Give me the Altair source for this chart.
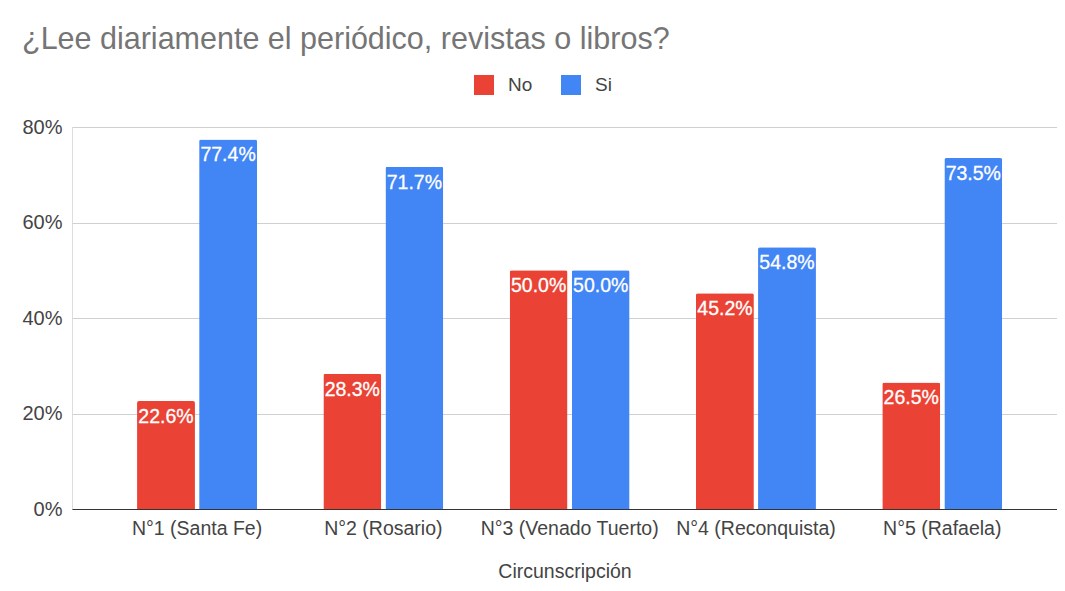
import altair as alt
import pandas as pd

categories = ["N°1 (Santa Fe)", "N°2 (Rosario)", "N°3 (Venado Tuerto)", "N°4 (Reconquista)", "N°5 (Rafaela)"]
series = ["No", "Si"]
no_values = [0.226, 0.283, 0.500, 0.452, 0.265]
si_values = [0.774, 0.717, 0.500, 0.548, 0.735]
y_ticks = [0, 0.2, 0.4, 0.6, 0.8]
colors = ["#EA4335", "#4285F4"]

rows = []
for c, n, s in zip(categories, no_values, si_values):
    rows.append({"Circunscripción": c, "Respuesta": "No", "Valor": n})
    rows.append({"Circunscripción": c, "Respuesta": "Si", "Valor": s})
df = pd.DataFrame(rows)

FONT = "Liberation Sans"

x_enc = alt.X(
    "Circunscripción:N",
    sort=categories,
    scale=alt.Scale(paddingInner=0.356, paddingOuter=0.3215, align=0.543),
    axis=alt.Axis(
        title="Circunscripción",
        labelAngle=0,
        labelFontSize=19.5,
        labelColor="#444444",
        labelFont=FONT,
        labelPadding=10,
        labelOverlap=False,
        labelBound=False,
        ticks=False,
        domain=True,
        domainColor="#333333",
        domainWidth=1,
        titleFontSize=19.5,
        titleFont=FONT,
        titleColor="#444444",
        titleFontWeight="normal",
        titleY=62,
        titleBaseline="middle",
        zindex=1,
    ),
)
xoff = alt.XOffset(
    "Respuesta:N",
    sort=series,
    scale=alt.Scale(paddingInner=0.067, paddingOuter=0),
)
y_enc = alt.Y(
    "Valor:Q",
    scale=alt.Scale(domain=[0, 0.8], nice=False),
    axis=alt.Axis(
        title=None,
        values=y_ticks,
        format=".0%",
        labelFontSize=20,
        labelColor="#444444",
        labelFont=FONT,
        labelPadding=10,
        ticks=False,
        domain=False,
        grid=True,
        gridColor="#d0d0d0",
        gridWidth=1,
    ),
)
color_enc = alt.Color(
    "Respuesta:N",
    sort=series,
    scale=alt.Scale(domain=series, range=colors),
    legend=alt.Legend(
        title=None,
        orient="none",
        direction="horizontal",
        legendX=402,
        legendY=-52,
        symbolType="square",
        symbolSize=400,
        symbolStrokeWidth=0,
        symbolOpacity=1,
        labelFontSize=19,
        labelFont=FONT,
        labelColor="#444444",
        labelOffset=14,
        columnPadding=28,
        padding=0,
    ),
)

base = alt.Chart(df)

bars = base.mark_bar(cornerRadiusTopLeft=2, cornerRadiusTopRight=2).encode(
    x=x_enc, xOffset=xoff, y=y_enc, color=color_enc
)

labels = base.mark_text(
    baseline="top", dy=7, color="white", fontSize=19.5, font=FONT,
    stroke="white", strokeWidth=0.3
).encode(
    x=alt.X("Circunscripción:N", sort=categories),
    xOffset=alt.XOffset("Respuesta:N", sort=series),
    y=alt.Y("Valor:Q"),
    text=alt.Text("Valor:Q", format=".1%"),
)

chart = (
    alt.layer(bars, labels)
    .properties(
        width=985,
        height=382,
        padding={"left": 64, "top": 119, "right": 0, "bottom": 74},
        autosize=alt.AutoSizeParams(type="none"),
        title=alt.TitleParams(
            "¿Lee diariamente el periódico, revistas o libros?",
            anchor="start",
            frame="group",
            dx=-50,
            offset=20,
            fontSize=30.5,
            font=FONT,
            fontWeight="normal",
            color="#757575",
        ),
    )
    .configure_view(strokeWidth=0)
    .configure(background="white")
)

chart.save("out.html", embed_options={"renderer": "svg", "actions": False})
